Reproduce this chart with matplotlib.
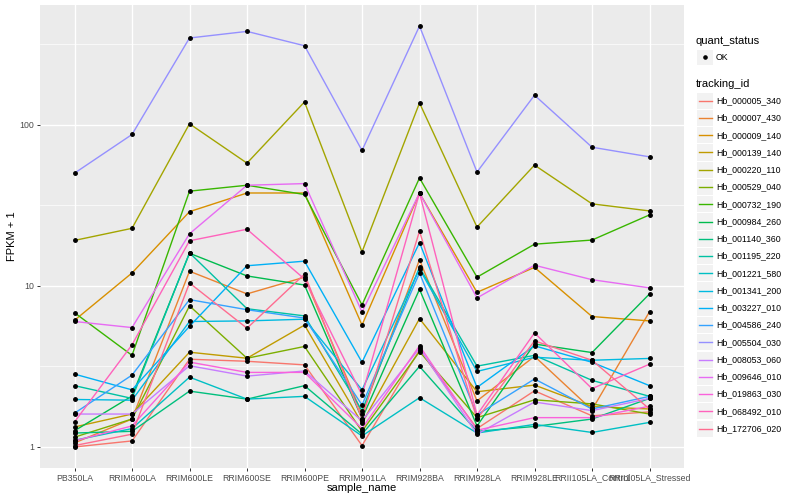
import matplotlib
matplotlib.use("Agg")
import matplotlib.pyplot as plt
from matplotlib.lines import Line2D
from matplotlib.patches import Rectangle
import numpy as np

plt.rcParams['font.family'] = ['Liberation Sans', 'DejaVu Sans']

samples = ["PB350LA", "RRIM600LA", "RRIM600LE", "RRIM600SE", "RRIM600PE", "RRIM901LA",
           "RRIM928BA", "RRIM928LA", "RRIM928LE", "RRII105LA_Control", "RRII105LA_Stressed"]

tracking_ids = ["Hb_000005_340", "Hb_000007_430", "Hb_000009_140", "Hb_000139_140", "Hb_000220_110",
                "Hb_000529_040", "Hb_000732_190", "Hb_000984_260", "Hb_001140_360", "Hb_001195_220",
                "Hb_001221_580", "Hb_001341_200", "Hb_003227_010", "Hb_004586_240", "Hb_005504_030",
                "Hb_008053_060", "Hb_009646_010", "Hb_019863_030", "Hb_068492_010", "Hb_172706_020"]

series_colors = ["#F8766D", "#EA8331", "#D89000", "#C09B00", "#A3A500", "#7CAE00", "#39B600", "#00BB4E",
                 "#00BF7D", "#00C1A3", "#00BFC4", "#00BAE0", "#00B0F6", "#35A2FF", "#9590FF", "#C77CFF",
                 "#E76BF3", "#FA62DB", "#FF62BC", "#FF6C90"]

# FPKM + 1 per sample, one list per tracking_id
hb_000005_340 = [1.00, 1.09, 3.5, 3.4, 3.23, 1.02, 4.0, 1.30, 2.23, 1.56, 1.65]
hb_000007_430 = [1.06, 1.49, 12.3, 8.9, 11.3, 1.60, 14.5, 1.93, 3.65, 1.70, 6.9]
hb_000009_140 = [6.1, 12.0, 28.8, 37.6, 37.6, 5.7, 37.6, 9.1, 13.0, 6.44, 6.05]
hb_000139_140 = [1.33, 1.60, 3.87, 3.55, 5.7, 1.40, 6.25, 2.20, 2.42, 1.78, 1.72]
hb_000220_110 = [19.1, 22.7, 101.0, 57.6, 138.0, 16.2, 136.0, 23.1, 56.0, 32.2, 29.1]
hb_000529_040 = [1.15, 1.49, 7.5, 3.55, 4.2, 1.25, 3.9, 1.52, 1.96, 1.85, 1.60]
hb_000732_190 = [6.8, 3.7, 38.6, 42.0, 36.8, 7.6, 46.6, 11.3, 18.1, 19.2, 27.5]
hb_000984_260 = [1.26, 2.07, 15.9, 11.5, 10.1, 1.50, 9.5, 1.35, 4.35, 3.85, 8.9]
hb_001140_360 = [1.22, 1.25, 2.22, 1.98, 2.4, 1.20, 3.16, 1.25, 1.34, 1.49, 2.0]
hb_001195_220 = [2.4, 2.0, 16.0, 7.2, 6.5, 1.68, 13.0, 3.17, 3.7, 2.59, 2.06]
hb_001221_580 = [1.10, 1.30, 2.71, 1.98, 2.06, 1.17, 2.02, 1.22, 1.38, 1.23, 1.42]
hb_001341_200 = [1.97, 1.95, 6.0, 6.05, 6.2, 2.26, 12.7, 2.94, 3.6, 3.45, 3.54]
hb_003227_010 = [2.83, 2.26, 5.6, 13.3, 14.2, 3.35, 18.5, 2.34, 4.24, 3.35, 2.4]
hb_004586_240 = [1.62, 2.79, 8.2, 7.1, 6.3, 1.82, 12.0, 1.58, 2.64, 1.72, 2.06]
hb_005504_030 = [49.9, 86.7, 344.0, 378.0, 308.0, 69.0, 408.0, 50.7, 152.0, 72.3, 63.0]
hb_008053_060 = [1.60, 1.60, 3.19, 2.75, 2.96, 1.45, 4.1, 1.20, 1.90, 1.68, 2.0]
hb_009646_010 = [6.0, 5.5, 21.0, 42.0, 43.0, 6.87, 37.6, 8.4, 13.4, 10.9, 9.7]
hb_019863_030 = [1.09, 1.35, 3.36, 2.9, 2.9, 1.30, 4.24, 1.27, 1.52, 1.52, 1.79]
hb_068492_010 = [1.43, 4.3, 19.0, 22.4, 11.0, 2.10, 37.6, 1.58, 5.1, 2.30, 3.26]
hb_172706_020 = [1.02, 1.20, 10.4, 5.45, 11.8, 1.50, 21.8, 1.49, 4.55, 3.45, 1.72]

all_series = [hb_000005_340, hb_000007_430, hb_000009_140, hb_000139_140, hb_000220_110,
              hb_000529_040, hb_000732_190, hb_000984_260, hb_001140_360, hb_001195_220,
              hb_001221_580, hb_001341_200, hb_003227_010, hb_004586_240, hb_005504_030,
              hb_008053_060, hb_009646_010, hb_019863_030, hb_068492_010, hb_172706_020]

W, H = 800, 500
fig = plt.figure(figsize=(W / 100, H / 100), dpi=100)
fig.patch.set_facecolor('white')

def fx(px):
    return px / W

def fy(py):
    return 1 - py / H

pl, pr, pt, pb = 40, 684, 5, 468
ax = fig.add_axes([fx(pl), fy(pb), fx(pr - pl), (pb - pt) / H])
ax.set_facecolor('#EBEBEB')
for s in ax.spines.values():
    s.set_visible(False)

x = np.arange(len(samples))
ax.set_xlim(-0.6, len(samples) - 1 + 0.6)
ax.set_yscale('log')
vals = np.array(all_series)
lo, hi = np.log10(vals.min()), np.log10(vals.max())
pad = (hi - lo) * 0.05
ax.set_ylim(10 ** (lo - pad), 10 ** (hi + pad))

# grid
for yv in [10 ** 0.5, 10 ** 1.5, 10 ** 2.5]:
    ax.axhline(yv, color='white', lw=0.5, zorder=0.5)
for yv in [1, 10, 100]:
    ax.axhline(yv, color='white', lw=1.0, zorder=0.6)
for xv in x:
    ax.axvline(xv, color='white', lw=1.0, zorder=0.6)

for vals_i, col in zip(all_series, series_colors):
    ax.plot(x, vals_i, color=col, lw=1.0, zorder=2, solid_capstyle='butt')
for vals_i in all_series:
    ax.plot(x, vals_i, linestyle='none', marker='o', markersize=2.5, color='black', zorder=3)

ax.set_yticks([1, 10, 100])
ax.set_yticklabels(['1', '10', '100'])
ax.yaxis.set_minor_locator(matplotlib.ticker.NullLocator())
ax.set_xticks(x)
ax.set_xticklabels(samples)
ax.tick_params(axis='both', colors='#333333', labelcolor='#4D4D4D', labelsize=6.3, length=2, width=0.7, pad=2)

fig.text(fx((pl + pr) / 2), fy(488), 'sample_name', ha='center', va='center', fontsize=8, color='black')
fig.text(fx(12), fy((pt + pb) / 2), 'FPKM + 1', ha='center', va='center', rotation=90, fontsize=8, color='black')

# legends
fig.text(fx(696), fy(41), 'quant_status', ha='left', va='center', fontsize=8)
fig.add_artist(Rectangle((fx(697), fy(65)), fx(16), 15 / H, transform=fig.transFigure,
                         facecolor='#F2F2F2', edgecolor='none'))
fig.add_artist(Line2D([fx(705)], [fy(57)], marker='o', markersize=2.3, color='black',
                      linestyle='none', transform=fig.transFigure))
fig.text(fx(716), fy(57), 'OK', ha='left', va='center', fontsize=6.3)

fig.text(fx(696), fy(84), 'tracking_id', ha='left', va='center', fontsize=8)
y0, dy = 100.7, 17.26
for i, (tid, col) in enumerate(zip(tracking_ids, series_colors)):
    yc = y0 + i * dy
    fig.add_artist(Rectangle((fx(697), fy(yc + 8.1)), fx(16), 16.2 / H, transform=fig.transFigure,
                             facecolor='#F2F2F2', edgecolor='none'))
    fig.add_artist(Line2D([fx(698.5), fx(711.5)], [fy(yc), fy(yc)], color=col, lw=1.0,
                          transform=fig.transFigure))
    fig.text(fx(716.5), fy(yc), tid, ha='left', va='center', fontsize=6.3)

fig.savefig('out.png', dpi=100)
